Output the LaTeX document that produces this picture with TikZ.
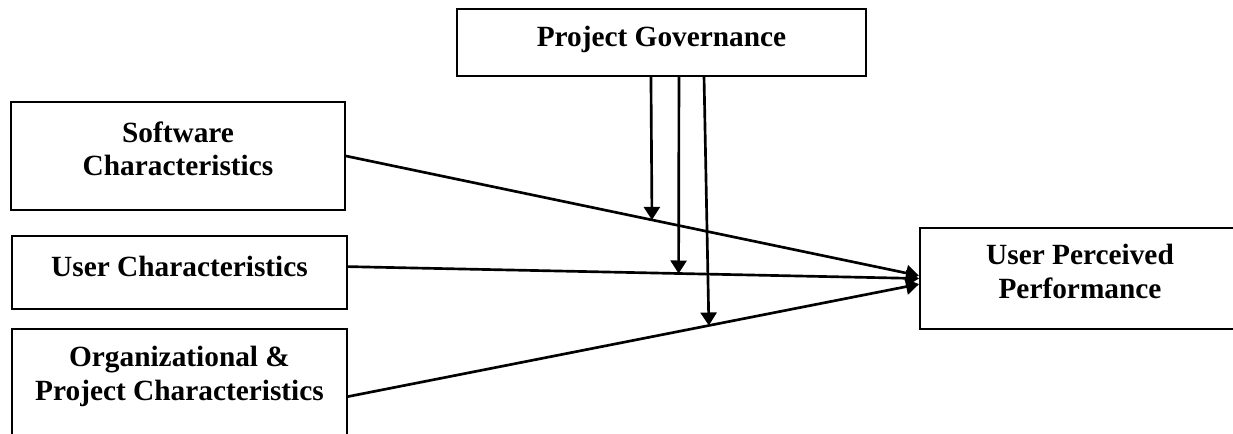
\documentclass[tikz,border=0pt]{standalone}
\usepackage{fontspec}
\setmainfont{Liberation Serif}
\usetikzlibrary{positioning,arrows.meta}

\tikzset{every picture/.style={line width=0.75pt}}
\tikzset{
  blk/.style={draw, line width=1.5pt, inner sep=0pt},
  lbl/.style={inner sep=0pt, align=center, anchor=north, font=\bfseries\fontsize{22}{25}\selectfont},
  link/.style={line width=2pt, -{Triangle[length=9.75pt,width=12pt]}}
}

\begin{document}
\begin{tikzpicture}[x=0.75pt,y=0.75pt,yscale=-1,xscale=1]
%set diagram at 1233 x 433
\clip (0,0) rectangle (1233,433);

%Shape: Rectangle [Project Governance]
\node [blk, minimum width=306.75pt, minimum height=50.25pt] (gov) at (661.5,42.5) {};
%Shape: Rectangle [Software]
\node [blk, minimum width=250.5pt, minimum height=81pt] (soft) at (178,156) {};
%Shape: Rectangle [User]
\node [blk, minimum width=251.25pt, minimum height=54.75pt] (user) at (179.5,272.5) {};
%Shape: Rectangle [Organizational]
\node [blk, minimum width=251.25pt, minimum height=105.75pt] (org) at (179.5,399.5) {};
%Shape: Rectangle [Performance]
\node [blk, minimum width=240pt, minimum height=75.75pt] (perf) at (1080,278.5) {};

% Text Node
\path (gov.north) ++(0,18) node [lbl] (govtxt) {Project Governance};
% Text Node
\path (soft.north) ++(0,20) node [lbl] (softtxt) {Software\\Characteristics};
% Text Node
\path (user.north) ++(0,21) node [lbl] (usertxt) {User Characteristics};
% Text Node
\path (org.north) ++(0,18) node [lbl] (orgtxt) {Organizational \&\\Project Characteristics};
% Text Node
\path (perf.north) ++(0,17) node [lbl] (perftxt) {User Perceived\\Performance};

%Straight Lines
\draw [link] (soft.east) -- coordinate [pos=0.534] (mod1) (perf.179);
\draw [link] (user.2) -- coordinate [pos=0.579] (mod2) (perf.west);
\draw [link] (org.1) -- coordinate [pos=0.632] (mod3) (perf.182);

%Straight Lines [moderation]
\draw [link] ([xshift=-7.9pt]gov.south) -- (mod1);
\draw [link] ([xshift=13.1pt]gov.south) -- (mod2);
\draw [link] ([xshift=31.9pt]gov.south) -- (mod3);

\end{tikzpicture}
\end{document}
